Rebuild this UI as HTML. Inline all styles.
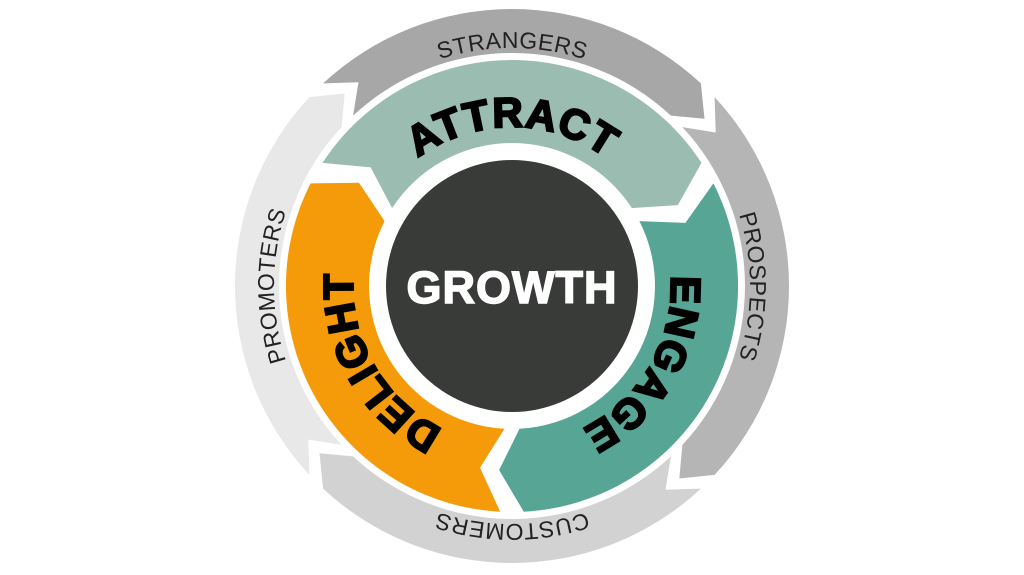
<!DOCTYPE html>
<html><head><meta charset="utf-8">
<style>
html,body{margin:0;padding:0;background:#fff;width:1024px;height:575px;overflow:hidden}
svg{display:block}
.big{font-family:"Liberation Sans",sans-serif;font-weight:bold;font-size:42px;fill:#000;stroke:#000;stroke-width:2.2px;letter-spacing:1px}
.lab{font-family:"Liberation Sans",sans-serif;font-size:23px;fill:#222;letter-spacing:0.5px}
</style></head><body>
<svg id="s" width="1024" height="575" viewBox="0 0 1024 575" xmlns="http://www.w3.org/2000/svg">
<defs>
<path id="pA" d="M 353,286 A 159 159 0 1 1 671,286 A 159 159 0 1 1 353,286 A 159 159 0 1 1 671,286 A 159 159 0 1 1 353,286"/>
<path id="pO" d="M 274,286 A 238 238 0 1 1 750,286 A 238 238 0 1 1 274,286 A 238 238 0 1 1 750,286 A 238 238 0 1 1 274,286"/>
</defs>
<g id="segs"></g>
<circle cx="512" cy="286" r="126" fill="#393b38"/>
<text x="512" y="303" text-anchor="middle" font-family="Liberation Sans,sans-serif" font-weight="bold" font-size="45" fill="#fff" stroke="#fff" stroke-width="1.5" letter-spacing="1">GROWTH</text>
<!-- inner labels, C=2*pi*159=999 -->
<text class="big"><textPath href="#pA" startOffset="250" text-anchor="middle">ATTRACT</textPath></text>
<text class="big"><textPath href="#pA" startOffset="583" text-anchor="middle">ENGAGE</textPath></text>
<text class="big"><textPath href="#pA" startOffset="916" text-anchor="middle">DELIGHT</textPath></text>
<!-- outer labels, C=2*pi*238=1495 -->
<text class="lab"><textPath href="#pO" startOffset="374" text-anchor="middle">STRANGERS</textPath></text>
<text class="lab"><textPath href="#pO" startOffset="748" text-anchor="middle">PROSPECTS</textPath></text>
<text class="lab"><textPath href="#pO" startOffset="1121" text-anchor="middle">CUSTOMERS</textPath></text>
<text class="lab"><textPath href="#pO" startOffset="1495" text-anchor="middle">PROMOTERS</textPath></text>
</svg>
<script>
(function(){
var cx=512,cy=286;
function P(r,a){a=a*Math.PI/180;return (cx+r*Math.cos(a)).toFixed(1)+','+(cy-r*Math.sin(a)).toFixed(1);}
function seg(ri,ro,a0,a1,ch,col){
 var rm=(ri+ro)/2;
 var large=(a0-a1)>180?1:0;
 var d='M '+P(ro,a0)+' A '+ro+' '+ro+' 0 '+large+' 1 '+P(ro,a1)+
 ' L '+P(rm,a1-ch)+' L '+P(ri,a1)+' A '+ri+' '+ri+' 0 '+large+' 0 '+P(ri,a0)+
 ' L '+P(rm,a0-ch)+' Z';
 return '<path d="'+d+'" fill="'+col+'"/>';
}
var h='';
var g=2;
h+=seg(233,277,135-g,45+g,6,'#a7a7a7');
h+=seg(233,277,45-g,-45+g,6,'#b5b5b5');
h+=seg(233,277,-45-g,-135+g,6,'#d2d2d2');
h+=seg(233,277,-135-g,-225+g,6,'#e8e8e8');
var c=3;
h+=seg(143,226,150-c,30+c,7,'#9bbcb0');
h+=seg(143,226,30-c,-90+c,7,'#57a595');
h+=seg(143,226,-90-c,-210+c,7,'#f59b0a');
document.getElementById('segs').innerHTML=h;
})();
</script>
</body></html>
